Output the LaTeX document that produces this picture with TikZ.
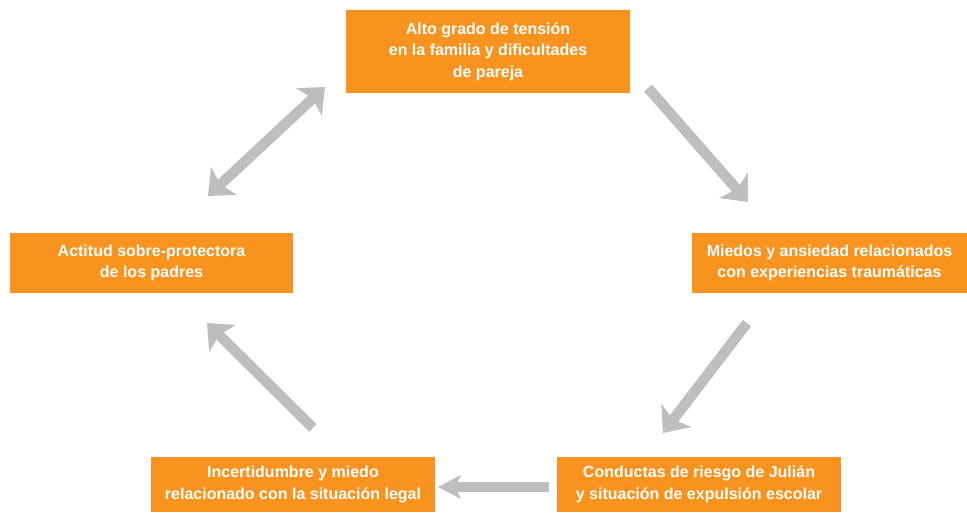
\documentclass[tikz,border=0pt]{standalone}
\usepackage{fontspec}
\setmainfont{Liberation Sans}
\usetikzlibrary{arrows.meta}
\definecolor{orangebox}{HTML}{F7931E}
\definecolor{arrowgray}{HTML}{BCBEC0}
\tikzset{
  bighead/.tip={Stealth[length=22pt,width=38pt,inset=5pt,line width=0pt]},
  smallhead/.tip={Stealth[length=23pt,width=24pt,inset=6pt,line width=0pt]}}
\begin{document}
\begin{tikzpicture}[x=1pt,y=1pt,
  box/.style={fill=orangebox, text=white, font=\bfseries\fontsize{16}{21.5}\selectfont,
    align=center, inner sep=0pt, minimum width=284pt},
  fat/.style={draw=arrowgray, line width=10.5pt}]
\useasboundingbox (0,0) rectangle (967,513);
\node[box, minimum height=83pt] (top) at (488,461.5)
  {Alto grado de tensión\\en la familia y dificultades\\de pareja};
\node[box, minimum width=283pt, minimum height=60pt] (left) at (151.5,250)
  {Actitud sobre-protectora\\de los padres};
\node[box, minimum width=275pt, minimum height=60pt] (right) at (829.5,250)
  {Miedos y ansiedad relacionados\\con experiencias traumáticas};
\node[box, minimum height=55pt] (bl) at (293,28.5)
  {Incertidumbre y miedo\\relacionado con la situación legal};
\node[box, minimum height=55pt] (br) at (699,28.5)
  {Conductas de riesgo de Julián\\y situación de expulsión escolar};
% arrow end points
\coordinate (a1s) at (208,317);
\coordinate (a1e) at (325,426);
\coordinate (a2s) at (648,425);
\coordinate (a2e) at (748,311);
\coordinate (a3s) at (747,190);
\coordinate (a3e) at (663,80);
\coordinate (a4s) at (549,26);
\coordinate (a4e) at (438,26);
\coordinate (a5s) at (313,85);
\coordinate (a5e) at (207,190);
\draw[fat, bighead-bighead] (a1s) -- (a1e);
\draw[fat, -bighead] (a2s) -- (a2e);
\draw[fat, -bighead] (a3s) -- (a3e);
\draw[fat, -smallhead] (a4s) -- (a4e);
\draw[fat, -bighead] (a5s) -- (a5e);
\end{tikzpicture}
\end{document}
